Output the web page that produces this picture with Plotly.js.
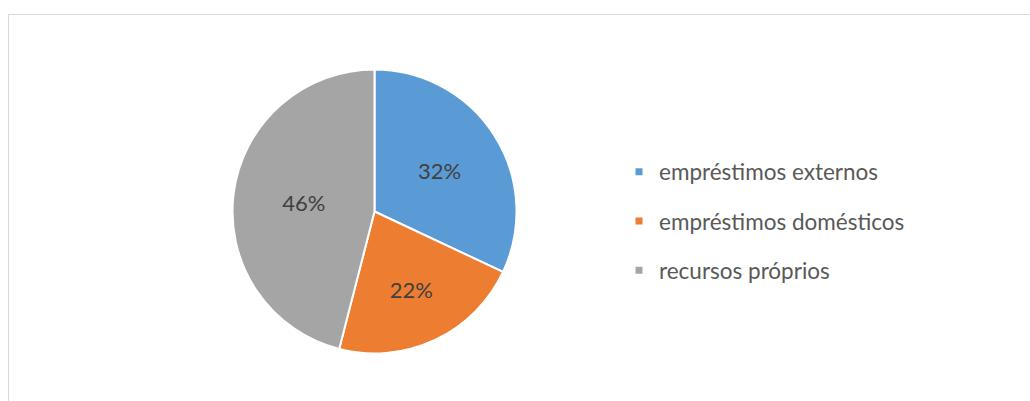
<!DOCTYPE html>
<html>
<head>
<meta charset="utf-8">
<script src="https://cdn.plot.ly/plotly-3.0.1.min.js"></script>
<style>html,body{margin:0;padding:0;background:#fff;}#chart{width:1030px;height:401px;}</style>
</head>
<body>
<div id="chart"></div>
<script>
const categories = ["empréstimos externos", "empréstimos domésticos", "recursos próprios"];
const shares = [32, 22, 46];
const colors = ["#5B9BD5", "#ED7D31", "#A5A5A5"];

const W = 1030, H = 401;
const FONT = "Lato, 'Open Sans', sans-serif";

const pie = {
  type: "pie",
  labels: categories,
  values: shares,
  sort: false,
  direction: "clockwise",
  rotation: 0,
  marker: {colors: colors, line: {color: "#ffffff", width: 2}},
  textinfo: "percent",
  texttemplate: "%{percent:.0%}",
  textposition: "inside",
  insidetextorientation: "horizontal",
  textfont: {family: FONT, size: 22, color: "#404040"},
  showlegend: false,
  hoverinfo: "label+percent",
  domain: {x: [232.5 / W, 516.5 / W], y: [(H - 353.5) / H, (H - 69.5) / H]}
};

const legendTraces = categories.map((c, i) => ({
  type: "scatter",
  mode: "markers",
  x: [null], y: [null],
  name: c,
  legendgroup: "g" + i,
  marker: {symbol: "square", size: 7, color: colors[i]},
  showlegend: true,
  hoverinfo: "skip"
}));

const layout = {
  width: W, height: H,
  margin: {l: 0, r: 0, t: 0, b: 0},
  paper_bgcolor: "#ffffff",
  plot_bgcolor: "#ffffff",
  xaxis: {visible: false},
  yaxis: {visible: false},
  showlegend: true,
  legend: {
    x: 619 / W, xanchor: "left",
    y: (H - 221) / H, yanchor: "middle",
    font: {family: FONT, size: 22.5, color: "#595959"},
    tracegroupgap: 17,
    bgcolor: "rgba(0,0,0,0)",
    itemclick: false, itemdoubleclick: false
  },
  shapes: [
    {type: "line", xref: "paper", yref: "paper", x0: 8.5 / W, x1: 1, y0: (H - 14.5) / H, y1: (H - 14.5) / H, line: {color: "#d9d9d9", width: 1}},
    {type: "line", xref: "paper", yref: "paper", x0: 8.5 / W, x1: 8.5 / W, y0: 0, y1: (H - 14.5) / H, line: {color: "#d9d9d9", width: 1}}
  ]
};

Plotly.newPlot("chart", [pie].concat(legendTraces), layout, {displayModeBar: false, staticPlot: true});
</script>
</body>
</html>
